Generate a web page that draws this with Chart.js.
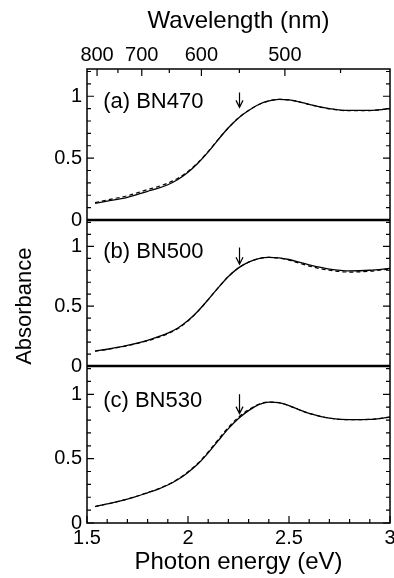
<!DOCTYPE html>
<html><head><meta charset="utf-8">
<script src="https://cdn.jsdelivr.net/npm/chart.js@4.4.1/dist/chart.umd.min.js"></script>
<style>html,body{margin:0;padding:0;background:#fff;}#wrap{width:394px;height:578px;position:relative;}</style>
</head><body><div id="wrap"><canvas id="c" width="394" height="578"></canvas></div>
<script>
// ---- data ----
const energy = [1.54, 1.6, 1.7, 1.8, 1.85, 1.9, 1.95, 2.0, 2.05, 2.1, 2.15, 2.2, 2.25, 2.3, 2.35, 2.4, 2.45, 2.5, 2.55, 2.6, 2.7, 2.8, 2.9, 3.0];
const bn470Solid  = [0.135, 0.152, 0.183, 0.232, 0.255, 0.285, 0.327, 0.385, 0.46, 0.55, 0.65, 0.745, 0.825, 0.885, 0.933, 0.962, 0.975, 0.97, 0.955, 0.935, 0.9, 0.885, 0.885, 0.9];
const bn470Dashed = [0.14, 0.162, 0.196, 0.246, 0.269, 0.298, 0.338, 0.393, 0.465, 0.553, 0.652, 0.746, 0.826, 0.885, 0.933, 0.962, 0.975, 0.97, 0.955, 0.933, 0.898, 0.883, 0.884, 0.9];
const bn500Solid  = [0.125, 0.14, 0.172, 0.215, 0.243, 0.275, 0.318, 0.38, 0.46, 0.555, 0.655, 0.748, 0.82, 0.868, 0.897, 0.908, 0.904, 0.89, 0.868, 0.845, 0.81, 0.795, 0.8, 0.815];
const bn500Dashed = [0.125, 0.138, 0.17, 0.211, 0.238, 0.27, 0.313, 0.376, 0.458, 0.555, 0.655, 0.748, 0.82, 0.868, 0.897, 0.908, 0.902, 0.885, 0.86, 0.835, 0.8, 0.785, 0.792, 0.812];
const bn530Solid  = [0.128, 0.148, 0.185, 0.235, 0.262, 0.295, 0.338, 0.393, 0.46, 0.545, 0.64, 0.733, 0.812, 0.873, 0.92, 0.94, 0.935, 0.912, 0.88, 0.852, 0.815, 0.803, 0.805, 0.822];
const bn530Dashed = [0.128, 0.148, 0.186, 0.237, 0.264, 0.298, 0.342, 0.398, 0.466, 0.552, 0.65, 0.743, 0.822, 0.88, 0.923, 0.94, 0.935, 0.912, 0.88, 0.852, 0.815, 0.803, 0.805, 0.822];
const panelLabels = ['(a) BN470', '(b) BN500', '(c) BN530'];
const energyTicks = [1.5, 1.6, 1.7, 1.8, 1.9, 2.0, 2.1, 2.2, 2.3, 2.4, 2.5, 2.6, 2.7, 2.8, 2.9, 3.0];
const energyLabels = [1.5, 2, 2.5, 3];
const wavelengthTicks = [800, 750, 700, 650, 600, 550, 500, 450];
const wavelengthLabels = [800, 700, 600, 500];
const absTicks = [0, 0.1, 0.2, 0.3, 0.4, 0.5, 0.6, 0.7, 0.8, 0.9, 1.0, 1.1, 1.2];
const absLabels = [0, 0.5, 1];
const arrowEnergy = 2.255;
const arrowTop = [1.03, 0.99, 1.0];
const arrowBottom = [0.91, 0.85, 0.85];
const HC = 1239.84; // eV*nm

// ---- chart ----
const FONT = "'Liberation Sans', Arial, Helvetica, sans-serif";
Chart.defaults.font.family = FONT;
Chart.defaults.color = '#000';

const near = (a, b) => Math.abs(a - b) < 1e-6;
const pts = (ys) => energy.map((e, i) => ({x: e, y: ys[i]}));
const solid = (ys, axis) => ({data: pts(ys), yAxisID: axis, borderColor: '#000', borderWidth: 1.3, pointRadius: 0, cubicInterpolationMode: 'monotone', fill: false});
const dashed = (ys, axis) => ({data: pts(ys), yAxisID: axis, borderColor: '#000', borderWidth: 1.2, borderDash: [4, 3], pointRadius: 0, cubicInterpolationMode: 'monotone', fill: false});

const yAxis = (weight) => ({
  type: 'linear', position: 'left', stack: 'abs', stackWeight: weight,
  min: 0, max: 1.22,
  grid: {display: false, drawTicks: false}, border: {display: false},
  afterBuildTicks: (s) => { s.ticks = absTicks.map(v => ({value: v})); },
  ticks: {autoSkip: false, padding: 5, font: {size: 20},
    callback: (v) => absLabels.some(l => near(l, v)) ? String(+v.toFixed(1)) : ''},
  afterFit: (s) => { s.width = 62; s.paddingTop = 0; s.paddingBottom = 0; }
});

const panelPlugin = {
  id: 'panels',
  afterDraw(chart) {
    const ctx = chart.ctx, a = chart.chartArea, sc = chart.scales;
    const ys = [sc.ya, sc.yb, sc.yc];
    ctx.save();
    ctx.strokeStyle = '#000'; ctx.fillStyle = '#000';
    ctx.lineWidth = 1.5;
    ctx.strokeRect(a.left, a.top, a.right - a.left, a.bottom - a.top);
    ctx.lineWidth = 2.5;
    [sc.ya, sc.yb].forEach(s => {
      const y = s.getPixelForValue(0);
      ctx.beginPath(); ctx.moveTo(a.left, y); ctx.lineTo(a.right, y); ctx.stroke();
    });
    ctx.lineWidth = 1.2;
    ys.forEach(s => {
      absTicks.forEach(v => {
        const y = s.getPixelForValue(v);
        const len = absLabels.some(l => near(l, v)) ? 7 : 4;
        ctx.beginPath();
        ctx.moveTo(a.left, y); ctx.lineTo(a.left + len, y);
        ctx.moveTo(a.right, y); ctx.lineTo(a.right - len, y);
        ctx.stroke();
      });
    });
    energyTicks.forEach(v => {
      const x = sc.x.getPixelForValue(v);
      const len = energyLabels.some(l => near(l, v)) ? 7 : 4;
      ctx.beginPath(); ctx.moveTo(x, a.bottom); ctx.lineTo(x, a.bottom - len); ctx.stroke();
    });
    wavelengthTicks.forEach(w => {
      const x = sc.x2.getPixelForValue(HC / w);
      const len = wavelengthLabels.includes(w) ? 7 : 4;
      ctx.beginPath(); ctx.moveTo(x, a.top); ctx.lineTo(x, a.top + len); ctx.stroke();
    });
    ctx.font = '22px ' + FONT;
    ctx.textAlign = 'left'; ctx.textBaseline = 'middle';
    ys.forEach((s, i) => {
      ctx.fillText(panelLabels[i], sc.x.getPixelForValue(1.58), s.getPixelForValue(0.95));
      const x = sc.x.getPixelForValue(arrowEnergy);
      const y1 = s.getPixelForValue(arrowTop[i]), y2 = s.getPixelForValue(arrowBottom[i]);
      ctx.lineWidth = 1.2;
      ctx.beginPath();
      ctx.moveTo(x, y1); ctx.lineTo(x, y2);
      ctx.moveTo(x - 3.5, y2 - 7); ctx.lineTo(x, y2); ctx.lineTo(x + 3.5, y2 - 7);
      ctx.stroke();
    });
    ctx.font = '22px ' + FONT;
    ctx.textAlign = 'center'; ctx.textBaseline = 'middle';
    ctx.translate(25, sc.yb.getPixelForValue(0.5));
    ctx.rotate(-Math.PI / 2);
    ctx.fillText('Absorbance', 0, 0);
    ctx.restore();
  }
};

new Chart(document.getElementById('c'), {
  type: 'line',
  data: {datasets: [
    solid(bn470Solid, 'ya'), dashed(bn470Dashed, 'ya'),
    solid(bn500Solid, 'yb'), dashed(bn500Dashed, 'yb'),
    solid(bn530Solid, 'yc'), dashed(bn530Dashed, 'yc')
  ]},
  options: {
    responsive: false, animation: false, devicePixelRatio: 1,
    layout: {padding: {left: 25, right: 4, top: 0, bottom: 0}},
    plugins: {legend: {display: false}, tooltip: {enabled: false}},
    scales: {
      x: {
        type: 'linear', position: 'bottom', min: 1.5, max: 3,
        grid: {display: false, drawTicks: false}, border: {display: false},
        afterBuildTicks: (s) => { s.ticks = energyTicks.map(v => ({value: v})); },
        ticks: {autoSkip: false, maxRotation: 0, padding: 3, font: {size: 20},
          callback: (v) => energyLabels.some(l => near(l, v)) ? String(+v.toFixed(1)) : ''},
        title: {display: true, text: 'Photon energy (eV)', font: {size: 24}, padding: {top: 0, bottom: 1}},
        afterFit: (s) => { s.height = 55; s.paddingLeft = 0; s.paddingRight = 0; }
      },
      x2: {
        type: 'linear', position: 'top', min: 1.5, max: 3,
        grid: {display: false, drawTicks: false}, border: {display: false},
        afterBuildTicks: (s) => { s.ticks = wavelengthTicks.map(w => ({value: HC / w})); },
        ticks: {autoSkip: false, maxRotation: 0, padding: 2, font: {size: 20},
          callback: (v, i) => wavelengthLabels.includes(wavelengthTicks[i]) ? String(wavelengthTicks[i]) : ''},
        title: {display: true, text: 'Wavelength (nm)', font: {size: 24}, padding: {top: 7, bottom: 0}},
        afterFit: (s) => { s.height = 69; s.paddingLeft = 0; s.paddingRight = 0; }
      },
      yc: yAxis(157),
      yb: yAxis(146),
      ya: yAxis(151)
    }
  },
  plugins: [panelPlugin]
});
</script></body></html>
